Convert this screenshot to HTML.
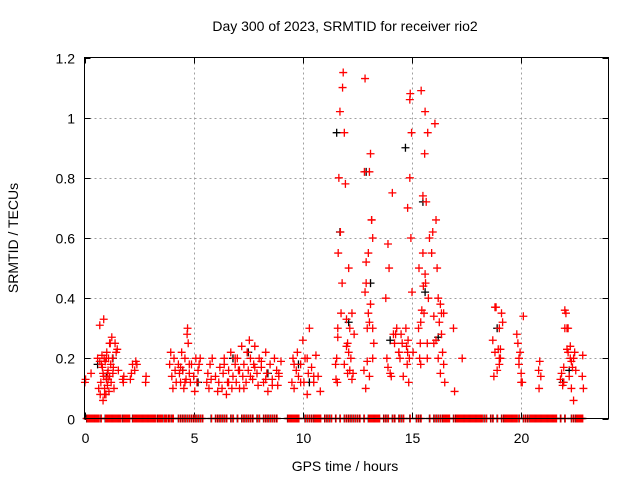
<!DOCTYPE html>
<html><head><meta charset="utf-8"><style>
body{margin:0;background:#fff}
svg{display:block;font-family:"Liberation Sans",sans-serif}
</style></head><body>
<svg id="chart" width="640" height="480" viewBox="0 0 640 480" xmlns="http://www.w3.org/2000/svg">
<rect width="640" height="480" fill="#fff"/>
<text x="345" y="31" font-size="14" text-anchor="middle" fill="#000">Day 300 of 2023, SRMTID for receiver rio2</text>
<text x="345" y="471" font-size="14" text-anchor="middle" fill="#000">GPS time / hours</text>
<text x="18" y="238" font-size="14" text-anchor="middle" fill="#000" transform="rotate(-90 18 238)">SRMTID / TECUs</text>
<g id="grid"></g>
<g id="axes"></g>
<g id="marks"></g>
<rect x="84.5" y="57.5" width="524" height="361" fill="none" stroke="#000" stroke-width="1"/>
</svg>
<script>
const xTicks=[0,5,10,15,20];
const yTicks=[0,0.2,0.4,0.6,0.8,1,1.2];
const yTickLabels=["0","0.2","0.4","0.6","0.8","1","1.2"];
const redT=[0.02,0.05,0.3,0.6,0.65,0.7,0.72,0.75,0.8,0.82,0.85,0.88,0.9,0.92,0.95,0.98,1.0,1.02,1.05,1.08,1.1,1.12,1.15,1.18,1.2,1.22,1.25,1.28,1.3,1.32,1.35,1.4,1.45,1.5,1.55,1.75,1.78,1.8,2.1,2.15,2.2,2.3,2.35,2.4,2.8,2.82,3.9,3.95,4.0,4.05,4.1,4.15,4.2,4.3,4.35,4.4,4.45,4.5,4.55,4.6,4.65,4.7,4.72,4.75,4.8,4.85,4.9,5.0,5.05,5.1,5.15,5.2,5.25,5.3,5.6,5.65,5.7,5.75,5.8,5.85,6.0,6.1,6.15,6.2,6.3,6.35,6.4,6.5,6.55,6.6,6.7,6.75,6.8,6.9,6.95,7.0,7.05,7.1,7.2,7.25,7.3,7.4,7.45,7.5,7.55,7.6,7.7,7.75,7.8,7.9,7.95,8.0,8.1,8.2,8.3,8.35,8.4,8.5,8.6,8.7,8.8,8.85,8.9,9.0,9.5,9.55,9.6,9.7,9.75,9.8,9.9,10.0,10.05,10.1,10.2,10.25,10.3,10.4,10.5,10.6,10.7,10.8,11.5,11.52,11.55,11.6,11.62,11.65,11.7,11.72,11.75,11.8,11.82,11.85,11.9,11.95,12.0,12.05,12.1,12.15,12.2,12.25,12.3,12.35,12.1,11.58,11.6,11.9,12.0,12.8,12.82,12.85,12.88,12.9,12.95,13.0,13.05,13.1,13.15,13.2,13.25,13.0,12.85,13.1,13.2,12.9,13.05,13.15,13.8,13.85,13.9,13.95,14.0,14.1,14.15,14.2,14.3,14.4,14.45,14.5,14.55,14.6,14.72,14.75,14.78,14.8,14.82,14.85,14.88,14.9,14.92,14.95,14.98,15.0,15.05,14.8,14.9,15.3,15.32,15.35,15.38,15.4,15.42,15.45,15.5,15.52,15.55,15.58,15.6,15.62,15.65,15.7,15.72,15.75,15.8,15.4,15.5,15.6,15.7,15.9,15.95,16.0,16.05,16.1,16.15,16.2,16.25,16.3,16.35,16.4,16.45,16.5,16.0,16.3,16.45,16.9,16.95,17.3,18.7,18.75,18.8,18.85,18.9,18.95,19.0,19.05,19.1,19.15,18.8,19.0,19.8,19.85,19.9,19.95,20.0,20.05,20.1,19.9,20.0,20.8,20.82,20.85,20.9,21.8,21.85,21.9,21.95,22.0,22.05,22.1,22.15,22.2,22.25,22.3,22.35,22.4,22.45,22.5,21.95,22.1,22.3,22.8,22.82,22.85,
0.78,0.85,0.92,1.0,1.08,1.15,0.7,0.88,1.05,6.4,6.6,6.9,7.1,7.3,7.6,7.8,8.1,8.3,8.6,8.9,9.6,9.9,10.2,10.5,4.4,4.6,4.8,12.05,12.15,12.25,12.95,13.05,13.2,13.9,14.05,14.25,14.4,16.1,16.2,16.35,22.0,22.15,22.25,22.4,19.0,19.05];
const redV=[0.12,0.13,0.15,0.2,0.1,0.19,0.08,0.12,0.21,0.17,0.06,0.14,0.2,0.1,0.19,0.08,0.13,0.22,0.11,0.16,0.2,0.09,0.14,0.25,0.18,0.12,0.27,0.2,0.15,0.17,0.1,0.25,0.22,0.23,0.16,0.13,0.12,0.14,0.13,0.15,0.18,0.16,0.19,0.18,0.12,0.14,0.18,0.22,0.14,0.1,0.2,0.16,0.12,0.18,0.15,0.12,0.22,0.16,0.1,0.2,0.13,0.28,0.3,0.25,0.15,0.12,0.18,0.14,0.09,0.2,0.12,0.16,0.18,0.2,0.12,0.15,0.1,0.18,0.13,0.2,0.14,0.09,0.12,0.17,0.1,0.15,0.2,0.08,0.12,0.16,0.22,0.1,0.14,0.18,0.12,0.2,0.16,0.1,0.24,0.14,0.18,0.12,0.22,0.16,0.26,0.2,0.13,0.18,0.24,0.15,0.11,0.2,0.17,0.12,0.22,0.15,0.09,0.18,0.13,0.2,0.16,0.11,0.14,0.19,0.12,0.2,0.1,0.16,0.22,0.14,0.18,0.26,0.12,0.2,0.08,0.15,0.3,0.17,0.12,0.21,0.14,0.09,0.18,0.13,0.2,0.3,0.55,0.8,1.02,0.62,0.35,0.45,1.1,1.15,0.95,0.78,0.33,0.25,0.5,0.3,0.2,0.35,0.15,0.28,0.22,0.12,0.27,0.18,0.24,0.16,0.82,1.13,0.1,0.52,0.3,0.35,0.82,0.88,0.66,0.6,0.25,0.55,0.42,0.38,0.3,0.45,0.32,0.66,0.4,0.2,0.58,0.5,0.15,0.75,0.28,0.25,0.3,0.22,0.2,0.28,0.25,0.14,0.3,0.24,0.18,0.22,0.26,0.12,0.2,0.8,1.08,0.6,0.95,0.42,0.22,0.7,1.06,0.3,0.5,0.2,0.25,0.18,1.09,0.36,0.55,0.44,0.35,0.88,1.02,0.45,0.72,0.25,0.95,0.4,0.6,0.32,0.74,0.48,0.2,0.55,0.62,0.34,0.98,0.66,0.5,0.2,0.32,0.15,0.28,0.22,0.35,0.12,0.25,0.38,0.18,0.3,0.09,0.2,0.26,0.14,0.22,0.37,0.16,0.23,0.2,0.23,0.35,0.32,0.37,0.3,0.28,0.25,0.2,0.22,0.15,0.12,0.34,0.18,0.12,0.16,0.1,0.19,0.14,0.13,0.15,0.11,0.17,0.36,0.35,0.3,0.3,0.14,0.2,0.1,0.17,0.06,0.22,0.16,0.12,0.23,0.19,0.14,0.21,0.1,0.18,0.15,0.08,0.2,0.13,0.25,0.31,0.33,
0.15,0.18,0.12,0.2,0.16,0.1,0.14,0.17,0.19,0.13,0.11,0.15,0.18,0.12,0.2,0.14,0.17,0.12,0.18,0.15,0.16,0.13,0.19,0.14,0.2,0.17,0.14,0.28,0.22,0.26,0.4,0.35,0.3,0.22,0.24,0.2,0.18,0.2,0.16,0.25,0.2,0.18,0.21,0.17,0.2,0.24];
const blackT=[0.6,1.0,1.3,4.5,5.2,6.8,7.5,8.4,9.8,10.3,11.55,11.7,12.1,12.9,13.1,14.0,14.7,15.5,15.6,16.2,18.9,21.9,22.2];
const blackV=[0.18,0.14,0.2,0.16,0.12,0.2,0.22,0.15,0.18,0.12,0.95,0.62,0.32,0.82,0.45,0.26,0.9,0.72,0.42,0.27,0.3,0.12,0.16];
const zeroT=[0.1,0.15,0.2,0.25,0.3,0.35,0.4,0.45,0.5,0.55,0.6,0.65,0.75,0.95,1.0,1.05,1.1,1.15,1.2,1.25,1.3,1.4,1.45,1.5,1.6,1.75,1.8,1.9,2.0,2.2,2.3,2.4,2.5,2.6,2.7,2.8,2.9,3.0,3.1,3.2,3.4,3.5,3.7,3.9,4.0,4.3,4.6,4.8,4.9,5.1,5.4,5.8,6.0,6.4,6.5,6.7,6.8,7.2,7.4,7.5,7.6,7.9,8.3,8.4,8.5,8.6,8.7,8.8,9.3,9.4,9.5,9.6,9.7,9.8,10.1,10.3,10.5,10.6,10.7,10.8,11.0,11.3,11.5,11.7,11.9,12.1,12.3,12.5,12.6,12.8,13.0,13.1,13.2,13.3,13.4,13.5,13.7,13.8,13.9,14.1,14.2,14.4,14.5,14.6,14.9,15.2,15.4,15.8,16.0,16.4,16.5,16.6,16.7,16.9,17.0,17.1,17.2,17.3,17.4,17.5,17.6,17.7,17.8,17.9,18.0,18.1,18.2,18.4,18.6,18.7,18.9,19.1,19.2,19.3,19.4,19.5,19.6,19.7,19.8,19.9,20.1,20.2,20.4,20.5,20.6,20.7,20.8,20.9,21.0,21.1,21.2,21.3,21.4,21.5,21.6,21.8,22.0,22.3,22.4,22.5,22.6,22.7,22.8,
0.18,0.28,0.38,0.48,0.58,1.35,1.55,1.65,1.85,1.95,2.05,2.25,2.35,2.45,2.55,2.65,2.75,2.85,2.95,3.05,3.15,3.25,3.35,3.45,3.55,3.65,3.75,3.85,4.05,4.4,4.5,4.7,5.0,5.2,5.3,6.1,6.2,6.3,7.0,7.3,7.7,8.0,8.2,9.35,9.45,9.55,9.65,9.75,10.2,10.4,10.55,10.65,10.75,11.1,11.2,12.0,12.2,12.4,13.05,13.15,13.25,13.35,13.45,15.3,16.1,16.2,16.3,16.45,16.55,16.65,17.05,17.15,17.25,17.35,17.45,17.55,17.65,17.75,17.85,17.95,18.05,18.15,18.3,19.25,19.35,19.45,19.55,19.65,19.75,20.3,20.45,20.55,20.65,20.75,20.85,20.95,21.05,21.15,21.25,21.35,21.45,21.55,22.55,22.65,22.75];
const X0=84.5,X1=608.5,XMAX=24,Y0=418.5,Y1=57.5,YMAX=1.2;
function xs(t){return X0+(X1-X0)*t/XMAX;}
function ys(v){return Y0-(Y0-Y1)*v/YMAX;}
const NS="http://www.w3.org/2000/svg";
const grid=document.getElementById('grid'),axes=document.getElementById('axes'),marks=document.getElementById('marks');
function el(tag,attrs,parent){const e=document.createElementNS(NS,tag);for(const k in attrs)e.setAttribute(k,attrs[k]);parent.appendChild(e);return e;}
xTicks.forEach((t,i)=>{
  const x=Math.round(xs(t))+0.5;
  if(t>0){const g=el('line',{x1:x,x2:x,y1:Y1,y2:Y0,stroke:'#a0a0a0','stroke-dasharray':'2,3'},grid);
  
  }
  const tk=el('line',{x1:x,x2:x,y1:Y0,y2:Y0-6,stroke:'#000'},axes);
  
  
  const tk2=el('line',{x1:x,x2:x,y1:Y1,y2:Y1+6,stroke:'#000'},axes);
  
  
  const lb=el('text',{x:x,y:443,'font-size':14,'text-anchor':'middle',fill:'#000'},axes);
  lb.textContent=String(t);
  
  
});
yTicks.forEach((v,i)=>{
  const y=Math.round(ys(v))+0.5;
  if(v>0&&v<YMAX){const g=el('line',{x1:X0,x2:X1,y1:y,y2:y,stroke:'#a0a0a0','stroke-dasharray':'2,3'},grid);
  
  }
  const tk=el('line',{x1:X0,x2:X0+6,y1:y,y2:y,stroke:'#000'},axes);
  
  
  const tk2=el('line',{x1:X1,x2:X1-6,y1:y,y2:y,stroke:'#000'},axes);
  
  
  const lb=el('text',{x:75,y:y+5,'font-size':14,'text-anchor':'end',fill:'#000'},axes);
  lb.textContent=yTickLabels[i];
  
  
});
function plus(t,v,color,name){
  const x=xs(t),y=ys(v);
  const p=el('path',{d:`M${x-4},${y}H${x+4}M${x},${y-4}V${y+4}`,stroke:color,'stroke-width':1.3,fill:'none'},marks);
  
  
}
blackT.forEach((t,i)=>plus(t,blackV[i],'#000','black-point'));
zeroT.forEach(t=>plus(t,0,'#000','zero-point-black'));
redT.forEach((t,i)=>plus(t,redV[i],'#f00','red-point'));
zeroT.forEach(t=>plus(t+0.02,0,'#f00','zero-point'));
</script>
</body></html>
